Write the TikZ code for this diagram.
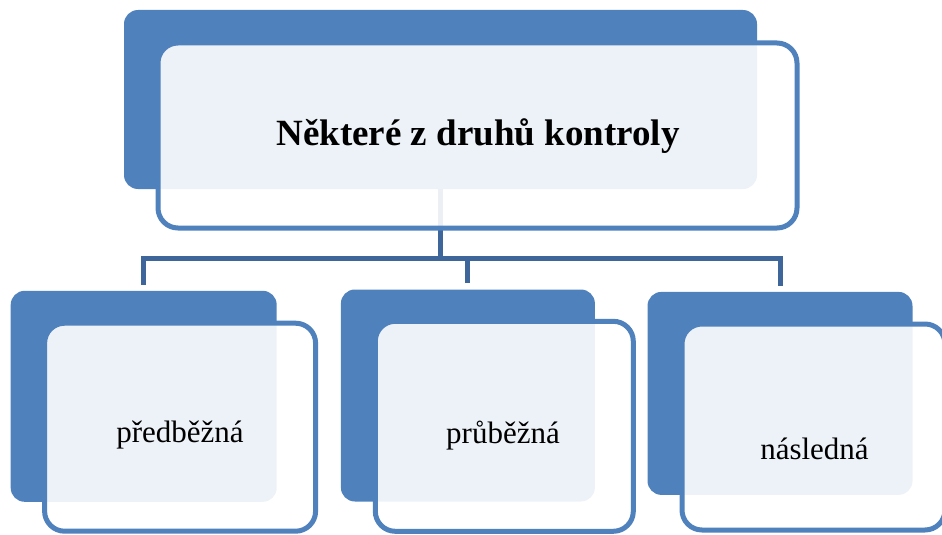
\documentclass[tikz,border=0pt]{standalone}
\usepackage{fontspec}
\setmainfont{Liberation Serif}
\usetikzlibrary{positioning}
\definecolor{sblue}{HTML}{4F81BD}
\definecolor{dblue}{HTML}{3E669B}
\tikzstyle{shadowbox} = [rectangle, rounded corners=14pt, inner sep=0pt, fill=sblue]
\tikzstyle{cardbox} = [rectangle, rounded corners=20pt, inner sep=0pt, draw=sblue, line width=5pt, fill=white, fill opacity=0.9]
\tikzstyle{headtext} = [inner sep=0pt, anchor=base, font=\fontsize{37}{42}\selectfont\bfseries]
\tikzstyle{kindtext} = [inner sep=0pt, anchor=base, font=\fontsize{31}{36}\selectfont]
\tikzstyle{link} = [draw=dblue, line width=5pt]

\begin{document}
\begin{tikzpicture}[x=1pt, y=-1pt]
  \useasboundingbox (0,0) rectangle (942,535);
  % back boxes
  \node (tback) [shadowbox, minimum width=633pt, minimum height=179pt] at (440.5,99.5) {};
  \node (aback) [shadowbox, minimum width=266pt, minimum height=211pt] at (143.7,396.3) {};
  \node (bback) [shadowbox, minimum width=254pt, minimum height=212pt] at (467.9,395.5) {};
  \node (cback) [shadowbox, minimum width=265pt, minimum height=203pt] at (780,393.4) {};
  % connectors
  \coordinate (bus) at (440.5,258);
  \draw [link] (tback.south) -- (bus);
  \foreach \n in {aback, bback, cback}
    \draw [link] (bus) -| ([yshift=6pt]\n.north);
  % front boxes
  \node (tcard) [cardbox, minimum width=639pt, minimum height=185pt] at (477.5,135.5) {};
  \node (acard) [cardbox, minimum width=271pt, minimum height=208pt] at (180.1,427.2) {};
  \node (bcard) [cardbox, minimum width=258pt, minimum height=210pt] at (504.3,426.3) {};
  \node (ccard) [cardbox, minimum width=263pt, minimum height=206pt] at (813.5,427) {};
  % texts
  \node (ttext) [headtext] at (478,145) {Některé z druhů kontroly};
  \node (atext) [kindtext] at (180,442) {předběžná};
  \node (btext) [kindtext] at (503,443) {průběžná};
  \node (ctext) [kindtext] at (814.5,459) {následná};
\end{tikzpicture}
\end{document}
